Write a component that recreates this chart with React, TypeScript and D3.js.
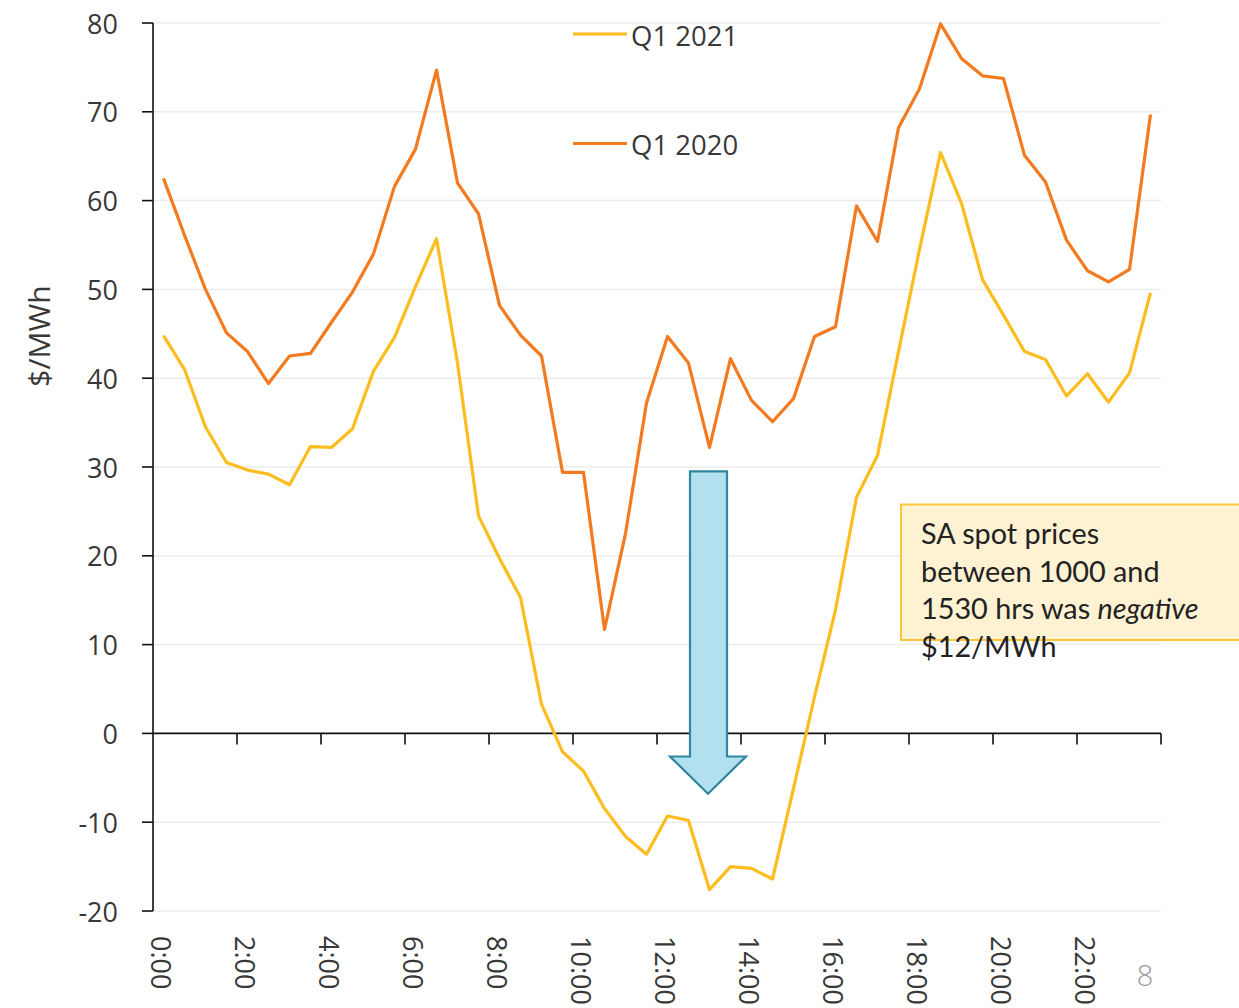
import React from "react";
import * as d3 from "d3";

// ---- data ----
const categories: string[] = d3.range(48).map((i) => `${Math.floor(i / 2)}:${i % 2 === 0 ? "00" : "30"}`);
const tickLabels = ["0:00", "2:00", "4:00", "6:00", "8:00", "10:00", "12:00", "14:00", "16:00", "18:00", "20:00", "22:00"];
const yTicks = [-20, -10, 0, 10, 20, 30, 40, 50, 60, 70, 80];

const q2020 = [
  62.5, 56.1, 50.0, 45.1, 43.0, 39.4, 42.5, 42.8, 46.3, 49.7, 54.0, 61.6,
  65.8, 74.7, 62.0, 58.5, 48.2, 44.85, 42.5, 29.4, 29.4, 11.7, 22.5, 37.2,
  44.7, 41.7, 32.2, 42.2, 37.5, 35.1, 37.7, 44.7, 45.8, 59.4, 55.4, 68.2,
  72.6, 79.9, 76.0, 74.05, 73.75, 65.1, 62.1, 55.55, 52.1, 50.85, 52.25, 69.7,
];
const q2021 = [
  44.8, 41.0, 34.5, 30.5, 29.65, 29.2, 28.0, 32.3, 32.2, 34.3, 40.8, 44.6,
  50.3, 55.7, 41.7, 24.5, 19.7, 15.3, 3.3, -2.07, -4.25, -8.45, -11.6, -13.6,
  -9.3, -9.8, -17.6, -15.0, -15.2, -16.4, -6.2, 4.1, 13.9, 26.6, 31.3, 43.0,
  54.5, 65.4, 59.7, 51.1, 47.1, 43.0, 42.1, 38.0, 40.5, 37.3, 40.6, 49.6,
];

const seriesNames = ["Q1 2021", "Q1 2020"];
const seriesColors = ["#fdbd1f", "#f47a20"];
const annotationLines = ["SA spot prices", "between 1000 and", "1530 hrs was ", "$12/MWh"];

const W = 1239;
const H = 1008;
const left = 153;
const right = 1161;
const top = 23;
const bottom = 911;

const FONT = "'Open Sans', 'DejaVu Sans', sans-serif";
const ANN_FONT = "Lato, 'Open Sans', sans-serif";

export default function App() {
  const x = d3.scaleBand<string>().domain(categories).range([left, right]).padding(0);
  const y = d3.scaleLinear().domain([-20, 80]).range([bottom, top]);
  const cx = (c: string) => (x(c) as number) + x.bandwidth() / 2;

  const line = d3
    .line<number>()
    .x((_, i) => cx(categories[i]))
    .y((d) => y(d));

  const y0 = y(0);
  const tickBoundaries = d3.range(4, 49, 4).map((i) => left + i * x.bandwidth());

  // arrow geometry (annotation)
  const bx0 = 690, bx1 = 727, hx0 = 670, hx1 = 746;
  const bTop = y(29.5), hBase = y(-2.6), tip = y(-6.8);
  const arrowPath = `M${bx0},${bTop} L${bx1},${bTop} L${bx1},${hBase} L${hx1},${hBase} L${(hx0 + hx1) / 2},${tip} L${hx0},${hBase} L${bx0},${hBase} Z`;

  return (
    <svg
      width={W}
      height={H}
      style={{ position: "absolute", left: 0, top: 0, background: "#fff", overflow: "hidden" }}
    >
      {/* gridlines */}
      {yTicks.filter((t) => t !== 0).map((t) => (
        <line key={t} x1={left} x2={right} y1={y(t)} y2={y(t)} stroke="#ececec" strokeWidth={1.5} />
      ))}

      {/* y axis */}
      <line x1={left} x2={left} y1={top} y2={bottom} stroke="#111" strokeWidth={1.6} />
      {yTicks.map((t) => (
        <g key={t}>
          <line x1={left - 11} x2={left} y1={y(t)} y2={y(t)} stroke="#111" strokeWidth={1.6} />
          <text
            x={118}
            y={y(t)}
            textAnchor="end"
            dominantBaseline="central"
            fontFamily={FONT}
            fontSize={27}
            fill="#383838"
          >
            {t}
          </text>
        </g>
      ))}
      <text
        transform={`translate(38,336) rotate(-90)`}
        textAnchor="middle"
        dominantBaseline="central"
        fontFamily={FONT}
        fontSize={30}
        fill="#383838"
      >
        $/MWh
      </text>

      {/* x axis at zero */}
      <line x1={left} x2={right} y1={y0} y2={y0} stroke="#111" strokeWidth={1.6} />
      {tickBoundaries.map((bx, i) => (
        <line key={i} x1={bx} x2={bx} y1={y0} y2={y0 + 11} stroke="#111" strokeWidth={1.6} />
      ))}
      {tickLabels.map((lab) => (
        <text
          key={lab}
          transform={`translate(${cx(lab) - 2},936) rotate(90)`}
          textAnchor="start"
          dominantBaseline="central"
          fontFamily={FONT}
          fontSize={27}
          fill="#383838"
        >
          {lab}
        </text>
      ))}

      {/* series */}
      <path d={line(q2020) || ""} fill="none" stroke={seriesColors[1]} strokeWidth={3.2} strokeLinejoin="round" />
      <path d={line(q2021) || ""} fill="none" stroke={seriesColors[0]} strokeWidth={3.2} strokeLinejoin="round" />

      {/* legend */}
      {seriesNames.map((name, i) => {
        const ly = i === 0 ? 34 : 143.5;
        return (
          <g key={name}>
            <line x1={573} x2={627} y1={ly} y2={ly} stroke={seriesColors[i]} strokeWidth={3.2} />
            <text x={631} y={ly + 11.5} fontFamily={FONT} fontSize={27.5} fill="#383838">
              {name}
            </text>
          </g>
        );
      })}

      {/* arrow */}
      <path d={arrowPath} fill="#b3e0ee" stroke="#2f86a3" strokeWidth={2.2} strokeLinejoin="miter" />

      {/* annotation box */}
      <rect x={901} y={504.5} width={360} height={135.5} fill="#fff2d2" stroke="#fcc63a" strokeWidth={2} />
      {annotationLines.map((ln, i) => (
        <text key={i} x={921} y={544 + i * 37.6} fontFamily={ANN_FONT} fontSize={28.8} fill="#222">
          {ln}
          {i === 2 ? <tspan fontStyle="italic">negative</tspan> : null}
        </text>
      ))}

      {/* page number */}
      <text x={1145} y={986} textAnchor="middle" fontFamily={FONT} fontSize={29} fill="#9a9a9a" fontWeight={300}>
        8
      </text>
    </svg>
  );
}
